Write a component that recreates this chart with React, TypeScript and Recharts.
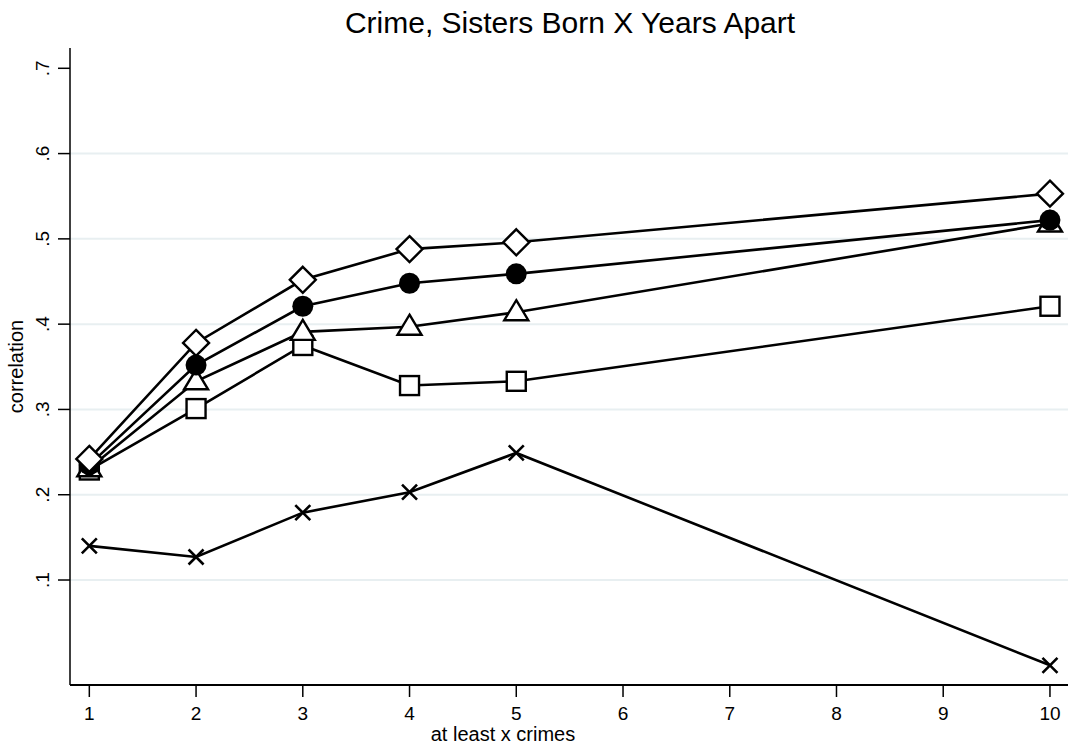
import { LineChart, Line, XAxis, YAxis, ReferenceLine, Label } from "recharts";

const crimeCounts = [1, 2, 3, 4, 5, 10];
const diamondSeries = [0.242, 0.378, 0.452, 0.488, 0.496, 0.553];
const circleSeries = [0.235, 0.352, 0.421, 0.448, 0.459, 0.522];
const triangleSeries = [0.231, 0.333, 0.391, 0.397, 0.414, 0.518];
const squareSeries = [0.229, 0.301, 0.375, 0.328, 0.333, 0.421];
const crossSeries = [0.14, 0.127, 0.179, 0.203, 0.249, 0.0];
const xTicks = [1, 2, 3, 4, 5, 6, 7, 8, 9, 10];
const yTicks = [0.1, 0.2, 0.3, 0.4, 0.5, 0.6, 0.7];
const gridValues = [0.1, 0.2, 0.3, 0.4, 0.5, 0.6];

const data = crimeCounts.map((x, i) => ({
  x,
  diamond: diamondSeries[i],
  circle: circleSeries[i],
  triangle: triangleSeries[i],
  square: squareSeries[i],
  cross: crossSeries[i],
}));

const FONT = "'Liberation Sans', Arial, Helvetica, sans-serif";
const INK = "#000";

type DotProps = { cx?: number; cy?: number; index?: number };

function DiamondDot({ cx, cy, index }: DotProps) {
  if (cx == null || cy == null) return null;
  const h = 13;
  return (
    <polygon
      key={`d${index}`}
      points={`${cx},${cy - h} ${cx + h},${cy} ${cx},${cy + h} ${cx - h},${cy}`}
      fill="#fff"
      stroke={INK}
      strokeWidth={2.4}
    />
  );
}

function CircleDot({ cx, cy, index }: DotProps) {
  if (cx == null || cy == null) return null;
  return <circle key={`c${index}`} cx={cx} cy={cy} r={10.5} fill={INK} stroke="none" />;
}

function TriangleDot({ cx, cy, index }: DotProps) {
  if (cx == null || cy == null) return null;
  return (
    <polygon
      key={`t${index}`}
      points={`${cx},${cy - 12} ${cx + 12},${cy + 8} ${cx - 12},${cy + 8}`}
      fill="#fff"
      stroke={INK}
      strokeWidth={2.4}
    />
  );
}

function SquareDot({ cx, cy, index }: DotProps) {
  if (cx == null || cy == null) return null;
  return (
    <rect
      key={`s${index}`}
      x={cx - 9.5}
      y={cy - 9.5}
      width={19}
      height={19}
      fill="#fff"
      stroke={INK}
      strokeWidth={2.4}
    />
  );
}

function CrossDot({ cx, cy, index }: DotProps) {
  if (cx == null || cy == null) return null;
  const h = 7.5;
  return (
    <path
      key={`x${index}`}
      d={`M${cx - h},${cy - h}L${cx + h},${cy + h}M${cx - h},${cy + h}L${cx + h},${cy - h}`}
      stroke={INK}
      strokeWidth={2.6}
      fill="none"
    />
  );
}

function fmtY(v: number) {
  return v.toFixed(1).replace(/^0/, "");
}

type TickProps = { x?: number; y?: number; payload?: { value: number } };

function YTick({ x = 0, y = 0, payload }: TickProps) {
  return (
    <g transform={`translate(${x - 5},${y}) rotate(-90)`}>
      <text textAnchor="middle" dy={0} fontSize={19} fontFamily={FONT} fill={INK}>
        {fmtY(payload?.value ?? 0)}
      </text>
    </g>
  );
}

const series: { key: string; dot: (p: DotProps) => any }[] = [
  { key: "square", dot: SquareDot },
  { key: "triangle", dot: TriangleDot },
  { key: "circle", dot: CircleDot },
  { key: "diamond", dot: DiamondDot },
  { key: "cross", dot: CrossDot },
];

export default function App() {
  return (
    <div style={{ position: "absolute", left: 0, top: 0, width: 1068, height: 747, background: "#fff" }}>
      <div
        style={{
          position: "absolute",
          left: 0,
          top: 8,
          width: 1140,
          textAlign: "center",
          fontFamily: FONT,
          fontSize: 30,
          lineHeight: "30px",
          color: INK,
        }}
      >
        Crime, Sisters Born X Years Apart
      </div>
      <LineChart width={1068} height={747} data={data} margin={{ top: 48, right: 0, bottom: 0, left: 0 }}>
        {gridValues.map((g) => (
          <ReferenceLine key={g} y={g} stroke="#e8eff1" strokeWidth={2} />
        ))}
        <XAxis
          dataKey="x"
          type="number"
          domain={[0.819, 10.169]}
          ticks={xTicks}
          allowDataOverflow
          height={62}
          tickSize={12}
          tickMargin={10}
          axisLine={{ stroke: INK, strokeWidth: 2 }}
          tickLine={{ stroke: INK, strokeWidth: 1.5 }}
          tick={{ fill: INK, fontSize: 19, fontFamily: FONT }}
        >
          <Label
            value="at least x crimes"
            position="insideBottom"
            offset={6}
            dx={-66}
            style={{ fill: INK, fontSize: 20, fontFamily: FONT }}
          />
        </XAxis>
        <YAxis
          type="number"
          domain={[-0.0231, 0.7238]}
          ticks={yTicks}
          allowDataOverflow
          width={70}
          tickSize={12}
          tickMargin={4}
          axisLine={{ stroke: INK, strokeWidth: 1.5 }}
          tickLine={{ stroke: INK, strokeWidth: 1.5 }}
          tick={<YTick />}
        >
          <Label
            value="correlation"
            angle={-90}
            position="insideLeft"
            offset={0}
            dx={16}
            style={{ fill: INK, fontSize: 20, fontFamily: FONT, textAnchor: "middle" }}
          />
        </YAxis>
        {series.map((s) => (
          <Line
            key={s.key}
            dataKey={s.key}
            stroke={INK}
            strokeWidth={2.6}
            dot={s.dot}
            activeDot={false}
            isAnimationActive={false}
          />
        ))}
      </LineChart>
    </div>
  );
}
